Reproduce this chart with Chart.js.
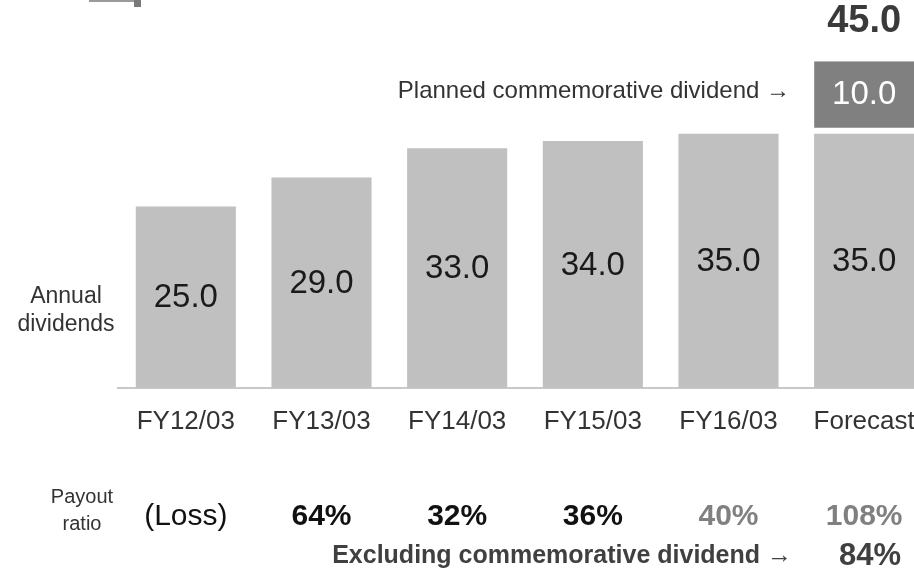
<!DOCTYPE html>
<html>
<head>
<meta charset="utf-8">
<script src="https://cdn.jsdelivr.net/npm/chart.js@4"></script>
<style>
html,body{margin:0;padding:0;background:#fff;overflow:hidden;width:914px;height:574px;}
#wrap{position:relative;width:932px;height:574px;}
</style>
</head>
<body>
<div id="wrap"><canvas id="c" width="932" height="574"></canvas></div>
<script>
const categories = ['FY12/03','FY13/03','FY14/03','FY15/03','FY16/03','Forecast'];
const annualDividends = [25.0, 29.0, 33.0, 34.0, 35.0, 35.0];
const commemorativeDividend = [null, null, null, null, null, 10.0];
const forecastTotal = 45.0;
const payoutRatios = ['(Loss)','64%','32%','36%','40%','108%'];
const excludingCommemorativeRatio = '84%';

const FONT = '"Liberation Sans", Arial, Helvetica, sans-serif';

const labelPlugin = {
  id: 'labels',
  afterDatasetsDraw(chart) {
    const ctx = chart.ctx;
    const x = chart.scales.x;
    ctx.save();
    // top-left decoration fragment
    ctx.fillStyle = '#9a9a9a';
    ctx.fillRect(89, 0, 46, 2);
    ctx.fillStyle = '#7a7a7a';
    ctx.fillRect(134, 0, 7, 7);

    ctx.textAlign = 'center';
    ctx.textBaseline = 'middle';
    // values inside light bars
    const m0 = chart.getDatasetMeta(0);
    m0.data.forEach((bar, i) => {
      ctx.font = '33px ' + FONT;
      ctx.fillStyle = '#1a1a1a';
      const mid = (bar.y + bar.base) / 2 + 1;
      ctx.fillText(annualDividends[i].toFixed(1), bar.x, mid);
    });
    // commemorative segment
    const m1 = chart.getDatasetMeta(1);
    m1.data.forEach((bar, i) => {
      if (commemorativeDividend[i] == null) return;
      ctx.font = '33px ' + FONT;
      ctx.fillStyle = '#ffffff';
      ctx.fillText(commemorativeDividend[i].toFixed(1), bar.x, (bar.y + bar.base) / 2 - 3);
      ctx.font = 'bold 38px ' + FONT;
      ctx.fillStyle = '#3a3a3a';
      ctx.fillText(forecastTotal.toFixed(1), bar.x, 22);
      ctx.font = '24px ' + FONT;
      ctx.fillStyle = '#333333';
      ctx.textAlign = 'right';
      ctx.fillText('Planned commemorative dividend \u2192', 790, 91);
      ctx.textAlign = 'center';
    });
    // left labels
    ctx.font = '23px ' + FONT;
    ctx.fillStyle = '#333333';
    ctx.fillText('Annual', 66, 297);
    ctx.fillText('dividends', 66, 325);
    ctx.font = '20px ' + FONT;
    ctx.fillText('Payout', 82, 497);
    ctx.fillText('ratio', 82, 524);
    // payout ratio row
    payoutRatios.forEach((t, i) => {
      const px = x.getPixelForValue(i);
      if (i === 0) { ctx.font = '30px ' + FONT; ctx.fillStyle = '#111111'; }
      else { ctx.font = 'bold 30px ' + FONT; ctx.fillStyle = i >= 4 ? '#808080' : '#111111'; }
      ctx.fillText(t, px, 517);
    });
    ctx.font = 'bold 25px ' + FONT;
    ctx.fillStyle = '#404040';
    ctx.textAlign = 'right';
    ctx.fillText('Excluding commemorative dividend \u2192', 792, 556);
    ctx.textAlign = 'center';
    ctx.font = 'bold 31px ' + FONT;
    ctx.fillText(excludingCommemorativeRatio, 870, 556);
    ctx.restore();
  }
};

new Chart(document.getElementById('c'), {
  type: 'bar',
  data: {
    labels: categories,
    datasets: [
      {
        data: annualDividends,
        backgroundColor: '#c0c0c0',
        borderWidth: 0,
        categoryPercentage: 1,
        barPercentage: 0.738
      },
      {
        data: commemorativeDividend,
        backgroundColor: '#808080',
        borderColor: '#ffffff',
        borderWidth: {top: 0, left: 0, right: 0, bottom: 6},
        borderSkipped: false,
        categoryPercentage: 1,
        barPercentage: 0.738
      }
    ]
  },
  options: {
    responsive: false,
    animation: false,
    layout: {padding: {left: 118, right: 0, top: 25, bottom: 127}},
    plugins: {legend: {display: false}, tooltip: {enabled: false}},
    scales: {
      x: {
        stacked: true,
        grid: {display: false},
        border: {display: true, color: '#c8c8c8', width: 2},
        ticks: {color: '#333333', font: {family: FONT, size: 26}, padding: 10}
      },
      y: {
        stacked: true,
        display: false,
        min: 0,
        max: 50
      }
    }
  },
  plugins: [labelPlugin]
});
</script>
</body>
</html>
